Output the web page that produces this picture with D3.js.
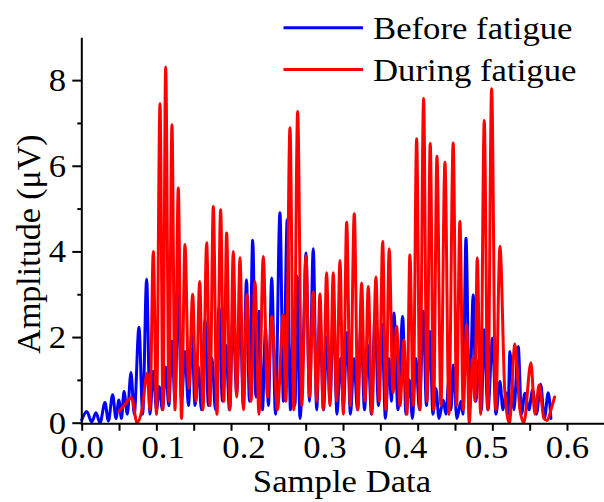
<!DOCTYPE html>
<html><head><meta charset="utf-8">
<script src="https://cdn.jsdelivr.net/npm/d3@7"></script>
<style>body{margin:0;background:#fff}svg{display:block}</style>
</head><body>
<script>
// ---------- data ----------
const seriesNames = ["Before fatigue", "During fatigue"];
const seriesColors = ["#0000ff", "#ff0000"];
const xTickLabels = ["0.0","0.1","0.2","0.3","0.4","0.5","0.6"];
const xTickLabelValues = [0, 0.1, 0.2, 0.3, 0.4, 0.5, 0.6];
const yTickLabelValues = [0, 2, 4, 6, 8];
const yMinorValues = [1, 3, 5, 7];

const beforeX = [0,0.0062,0.0124,0.0177,0.0226,0.0288,0.0329,0.0383,0.0424,0.0459,0.0492,0.0523,0.0564,0.0609,0.0650,0.0708,0.0754,0.0803,0.0844,0.0885,0.0925,0.0959,0.0999,0.1038,0.1077,0.1116,0.1153,0.1194,0.1234,0.1277,0.1320,0.1363,0.1401,0.1441,0.1481,0.1524,0.1567,0.1611,0.1654,0.1697,0.1740,0.1784,0.1827,0.1870,0.1916,0.1957,0.1998,0.2037,0.2074,0.2114,0.2154,0.2192,0.2235,0.2272,0.2309,0.2349,0.2396,0.2451,0.2494,0.2541,0.2581,0.2612,0.2637,0.2665,0.2698,0.2736,0.2773,0.2816,0.2863,0.2905,0.2946,0.2989,0.3032,0.3069,0.3113,0.3156,0.3199,0.3236,0.3280,0.3323,0.3366,0.3409,0.3453,0.3496,0.3539,0.3582,0.3626,0.3669,0.3712,0.3755,0.3799,0.3829,0.3860,0.3910,0.3968,0.4009,0.4052,0.4089,0.4132,0.4176,0.4223,0.4262,0.4305,0.4342,0.4380,0.4417,0.4470,0.4503,0.4540,0.4565,0.4593,0.4639,0.4689,0.4713,0.4751,0.4794,0.4841,0.4874,0.4911,0.4942,0.4973,0.5022,0.5080,0.5121,0.5171,0.5208,0.5245,0.5270,0.5294,0.5344,0.5397,0.5437,0.5480,0.5529,0.5575,0.5622,0.5674,0.5721,0.5768,0.5801];
const beforeY = [0.06,0.26,0.02,0.23,0.0,0.47,0.04,0.65,0.1,0.53,0.1,0.73,0.2,1.17,0.2,2.23,0.2,3.35,0.2,1.2,0.3,0.84,0.3,1.3,0.4,1.9,0.5,3.06,0.5,1.66,0.4,2.1,0.4,1.31,0.3,2.4,0.4,1.5,0.3,2.7,0.5,1.8,0.3,2.5,0.69,2.8,0.4,3.34,0.5,4.26,0.6,2.6,0.3,2.2,0.4,3.38,0.2,4.9,0.5,4.74,0.3,2.0,0.4,3.42,0.1,1.5,3.96,0.5,4.06,0.3,2.5,0.3,2.0,0.5,2.6,0.2,1.5,0.4,2.1,0.2,1.5,0.3,2.3,0.3,1.8,0.2,2.5,0.4,2.3,0.1,1.5,0.5,2.56,0.3,2.48,0.2,1.0,0.1,1.5,0.3,2.6,0.4,2.13,0.2,0.8,0.1,0.53,0.2,1.0,0.3,1.35,0.1,0.5,0.2,4.31,0.3,2.99,0.5,1.5,0.3,2.17,0.3,1.97,0.2,0.96,0.3,0.7,0.2,1.66,0.3,1.78,0.2,0.69,0.3,0.77,0.2,0.9,0.1,0.7,0.1];

const duringX = [0.0461,0.0523,0.0618,0.0684,0.0745,0.0811,0.0844,0.0885,0.0925,0.0968,0.1005,0.1038,0.1079,0.1116,0.1153,0.1194,0.1234,0.1277,0.1324,0.1372,0.1413,0.1459,0.1499,0.1545,0.1586,0.1627,0.1672,0.1718,0.1757,0.1792,0.1833,0.1874,0.1916,0.1957,0.2000,0.2043,0.2093,0.2142,0.2192,0.2245,0.2297,0.2349,0.2420,0.2492,0.2525,0.2575,0.2622,0.2670,0.2721,0.2773,0.2817,0.2863,0.2905,0.2946,0.2986,0.3028,0.3069,0.3110,0.3152,0.3193,0.3234,0.3276,0.3321,0.3370,0.3415,0.3461,0.3502,0.3543,0.3588,0.3638,0.3679,0.3721,0.3761,0.3802,0.3848,0.3894,0.3935,0.3984,0.4021,0.4058,0.4099,0.4141,0.4182,0.4227,0.4268,0.4309,0.4351,0.4392,0.4441,0.4491,0.4540,0.4593,0.4635,0.4676,0.4717,0.4759,0.4791,0.4833,0.4862,0.4890,0.4932,0.4977,0.5022,0.5068,0.5119,0.5171,0.5232,0.5288,0.5356,0.5418,0.5467,0.5554,0.5603,0.5656,0.5715,0.5755,0.5801,0.5847];
const duringY = [0.26,0.4,0.58,0.0,0.3,1.16,0.3,4.0,0.2,7.45,0.3,8.3,0.5,6.96,0.3,5.48,0.1,4.16,0.8,3.0,0.5,3.3,0.3,4.2,0.4,5.05,0.2,4.97,0.5,4.43,0.3,4.0,0.6,3.85,0.3,3.0,0.5,3.3,0.2,3.88,0.6,2.48,0.3,2.52,0.5,6.89,0.3,7.27,0.4,3.9,0.6,3.06,0.5,3.01,0.3,3.5,0.4,3.5,0.5,3.79,0.2,4.68,0.4,4.88,0.3,3.26,0.5,3.18,0.2,3.4,0.5,4.23,0.3,4.06,0.7,2.25,0.4,1.93,0.2,3.92,0.4,6.63,0.3,7.57,0.5,6.52,0.3,6.22,0.4,6.08,0.2,6.53,0.4,4.7,0.3,2.29,0.0,1.5,0.5,3.85,0.2,7.06,0.3,7.8,0.3,4.12,0.7,0.0,1.84,0.3,0.0,1.4,0.2,0.88,0.1,0.05,0.3,0.6];

// ---------- layout ----------
const W = 604, H = 502;
const svg = d3.select("body").append("svg").attr("width", W).attr("height", H);
const font = "'Liberation Serif','Times New Roman',serif";

const x = d3.scaleLinear().domain([0, 0.6]).range([81.7, 567]);
const y = d3.scaleLinear().domain([0, 9]).range([422.7, 37.3]);

// data lines
const line = d3.line().x(d => x(d[0])).y(d => y(d[1])).curve(d3.curveMonotoneX);
const series = [d3.zip(beforeX, beforeY), d3.zip(duringX, duringY)];
const plot = svg.append("g");
series.forEach((s, i) => {
  plot.append("path").datum(s).attr("d", line)
    .attr("fill", "none").attr("stroke", seriesColors[i])
    .attr("stroke-width", 3).attr("stroke-linejoin", "round").attr("stroke-linecap", "round");
});

// x axis: ticks (13 intervals from 0 to 0.6) + labels
const xMinorTicks = d3.range(14).map(k => 0.6 * k / 13);
const xAxisG = svg.append("g").attr("transform", `translate(0,${y(0) + 1})`);
xAxisG.call(d3.axisBottom(x).tickValues(xMinorTicks).tickSize(7).tickSizeOuter(0).tickFormat(""));
xAxisG.select(".domain").attr("d", `M${x(0) - 1},0H${W}`);
xAxisG.selectAll("path,line").attr("stroke", "#000").attr("stroke-width", 2);
const xLab = svg.append("g").attr("transform", `translate(0,${y(0) + 1})`);
xLab.call(d3.axisBottom(x).tickValues(xTickLabelValues).tickSize(0).tickPadding(34).tickFormat((d, i) => xTickLabels[i]));
xLab.select(".domain").remove();
xLab.selectAll("text").attr("font-family", font).attr("font-size", 31).attr("fill", "#000").attr("dy", 0)
  .attr("transform", "scale(1.12,1)").each(function(){ const t=d3.select(this.parentNode); });
// undo scale offset by placing text via parent transform
xLab.selectAll(".tick").each(function(d){
  d3.select(this).select("text").attr("transform", null).attr("y", 0).attr("dy", 0)
    .attr("transform", `translate(0,34) scale(1.12,1)`);
});

// y axis
const yAxisG = svg.append("g").attr("transform", `translate(81.3,0)`);
yAxisG.call(d3.axisLeft(y).tickValues(yTickLabelValues).tickSize(9).tickSizeOuter(0).tickFormat(""));
yAxisG.append("g").call(d3.axisLeft(y).tickValues(yMinorValues).tickSize(4).tickSizeOuter(0).tickFormat(""))
  .select(".domain").remove();
yAxisG.selectAll("path,line").attr("stroke", "#000").attr("stroke-width", 2);
const yLab = svg.append("g").attr("transform", `translate(66,0)`);
yLab.call(d3.axisLeft(y).tickValues(yTickLabelValues).tickSize(0).tickPadding(0));
yLab.select(".domain").remove();
yLab.selectAll("text").attr("font-family", font).attr("font-size", 31).attr("fill", "#000")
  .attr("dy", "0.34em").attr("x", 0).attr("text-anchor", "end");
yLab.selectAll(".tick text").attr("transform", "scale(1.12,1)");

// axis titles
svg.append("text").attr("transform", `translate(342,492) scale(1.12,1)`)
  .attr("text-anchor", "middle").attr("font-family", font).attr("font-size", 31).text("Sample Data");
svg.append("text").attr("transform", `translate(40,244) rotate(-90)`)
  .attr("text-anchor", "middle").attr("font-family", font).attr("font-size", 34).text("Amplitude (μV)");

// legend
const legY = [27.8, 69.5];
seriesNames.forEach((n, i) => {
  svg.append("line").attr("x1", 283.5).attr("x2", 363).attr("y1", legY[i]).attr("y2", legY[i])
    .attr("stroke", seriesColors[i]).attr("stroke-width", 3);
  svg.append("text").attr("transform", `translate(373,${legY[i] + 11}) scale(1.12,1)`)
    .attr("font-family", font).attr("font-size", 31).text(n);
});
</script>
</body></html>
